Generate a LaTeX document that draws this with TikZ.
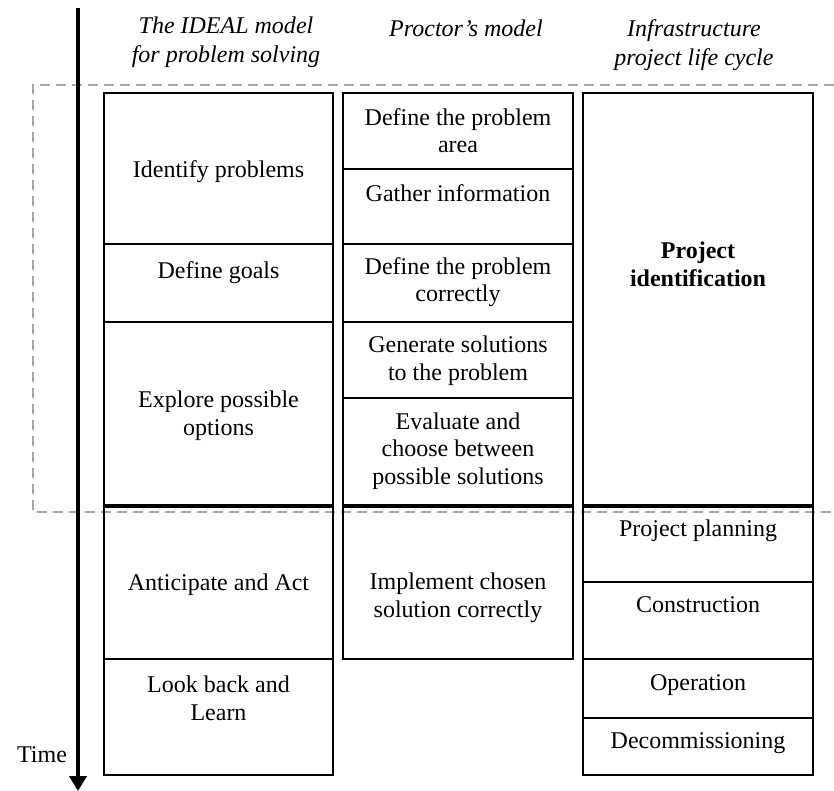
\documentclass[tikz,border=0pt]{standalone}
\usepackage{fontspec}
\setmainfont{Liberation Serif}
\usetikzlibrary{arrows.meta,fit}
\begin{document}
\begin{tikzpicture}[x=0.5pt,y=-0.5pt]
    \useasboundingbox (0,0) rectangle (834,791);
    {
        \tikzset{box/.style = {draw, line width=0.8pt, inner sep=0pt}}
        \tikzset{txt/.style = {align=center, inner sep=0pt, font=\fontsize{12}{13.8}\selectfont}}
        \tikzset{head/.style = {align=center, inner sep=0pt, font=\itshape\fontsize{12}{14.5}\selectfont}}

        % phase covered by problem solving
        \draw[gray!70, line width=0.7pt, dash pattern=on 5pt off 3pt] (834,85) -- (33,85) -- (33,512) -- (834,512);

        % column headings
        \node[head] (h1) at (226,42.5) {The IDEAL model\\for problem solving};
        \node[head] (h2) at (466,28) {Proctor’s model};
        \node[head] (h3) at (694,45) {Infrastructure\\project life cycle};

        % IDEAL model
        \node[box, fit={(104,93) (333,244)}] (i1) {};
        \node[box, fit={(104,244) (333,322)}] (i2) {};
        \node[box, fit={(104,322) (333,505)}] (i3) {};
        \node[box, fit={(104,507) (333,659)}] (i4) {};
        \node[box, fit={(104,659) (333,775)}] (i5) {};
        \node[txt] (ti1) at (218.5,172) {Identify problems};
        \node[txt] (ti2) at (218.5,273) {Define goals};
        \node[txt] (ti3) at (218.5,416) {Explore possible\\options};
        \node[txt] (ti4) at (218.5,585) {Anticipate and Act};
        \node[txt] (ti5) at (218.5,698) {Look back and\\Learn};

        % Proctor's model
        \node[box, fit={(343,93) (573,169)}] (p1) {};
        \node[box, fit={(343,169) (573,244)}] (p2) {};
        \node[box, fit={(343,244) (573,322)}] (p3) {};
        \node[box, fit={(343,322) (573,398)}] (p4) {};
        \node[box, fit={(343,398) (573,505)}] (p5) {};
        \node[box, fit={(343,507) (573,659)}] (p6) {};
        \node[txt] (tp1) at (458,130.5) {Define the problem\\area};
        \node[txt] (tp2) at (458,193) {Gather information};
        \node[txt] (tp3) at (458,282) {Define the problem\\correctly};
        \node[txt] (tp4) at (458,361) {Generate solutions\\to the problem};
        \node[txt] (tp5) at (458,451) {Evaluate and\\choose between\\possible solutions};
        \node[txt] (tp6) at (458,598) {Implement chosen\\solution correctly};

        % project life cycle
        \node[box, fit={(583,93) (813,505)}] (c1) {};
        \node[box, fit={(583,507) (813,582)}] (c2) {};
        \node[box, fit={(583,582) (813,659)}] (c3) {};
        \node[box, fit={(583,659) (813,718)}] (c4) {};
        \node[box, fit={(583,718) (813,775)}] (c5) {};
        \node[txt, font=\bfseries\fontsize{12}{13.8}\selectfont] (tc1) at (698,264) {Project\\identification};
        \node[txt] (tc2) at (698,531) {Project planning};
        \node[txt] (tc3) at (698,605) {Construction};
        \node[txt] (tc4) at (698,685) {Operation};
        \node[txt] (tc5) at (698,743) {Decommissioning};

        \node[txt] (time) at (42,755) {Time};
    }

        \coordinate (t0) at (78,8);
        \coordinate (t1) at (78,791);
        \draw[line width=2pt, -{Triangle[length=7.5pt,width=8.5pt]}] (t0) -- (t1);

\end{tikzpicture}
\end{document}
